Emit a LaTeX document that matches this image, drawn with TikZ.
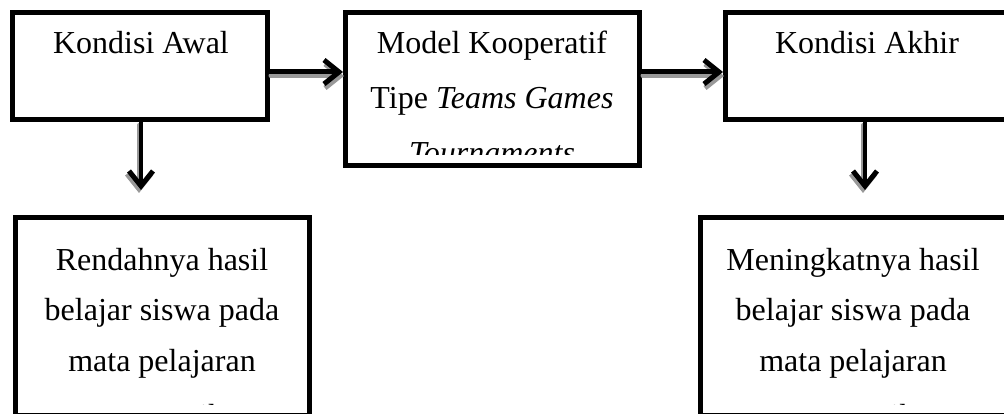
\documentclass[tikz,border=0pt]{standalone}
\usepackage{fontspec}
\setmainfont{Liberation Serif}
\usetikzlibrary{arrows.meta}
\tikzset{
  boxnode/.style={draw=black, line width=5pt, rectangle, inner sep=0pt, fill=white},
  txt/.style={anchor=base, inner sep=0pt, font=\fontsize{32}{40}\selectfont},
  arr/.style={line width=5pt, -{Straight Barb[length=15pt,width=24pt,line width=5pt]}, line cap=round, line join=round},
  shad/.style={arr, draw=black!40},
}
\begin{document}
\begin{tikzpicture}[x=1pt,y=-1pt]
\clip (0,0) rectangle (1004,414);
\fill[white] (0,0) rectangle (1004,414);
% boxes
\node[boxnode, minimum width=255pt, minimum height=107pt] (awal) at (140,66) {};
\node[boxnode, minimum width=294pt, minimum height=153pt] (model) at (492.5,89) {};
\node[boxnode, minimum width=285pt, minimum height=107pt] (akhir) at (868,66) {};
\node[boxnode, minimum width=294pt, minimum height=197.5pt] (rendah) at (162.5,316.25) {};
\node[boxnode, minimum width=310pt, minimum height=197.5pt] (tingkat) at (855.5,316.25) {};
% texts
\node[txt] (t1) at (141,54) {Kondisi Awal};
\begin{scope}
\clip (349,16) rectangle (636,155);
\node[txt] (t2a) at (492,54) {Model Kooperatif};
\node[txt] (t2b) at (492,109) {Tipe \textit{Teams Games}};
\node[txt] (t2c) at (492,164) {\textit{Tournaments}};
\end{scope}
\node[txt] (t3) at (867,54) {Kondisi Akhir};
\begin{scope}
\clip (19,221) rectangle (306,404);
\node[txt] (t4a) at (162,270) {Rendahnya hasil};
\node[txt] (t4b) at (162,320) {belajar siswa pada};
\node[txt] (t4c) at (162,371) {mata pelajaran};
\node[txt] (t4d) at (162,426.5) {Matematika};
\end{scope}
\begin{scope}
\clip (704,221) rectangle (1004,404);
\node[txt] (t5a) at (853,270) {Meningkatnya hasil};
\node[txt] (t5b) at (853,320) {belajar siswa pada};
\node[txt] (t5c) at (853,371) {mata pelajaran};
\node[txt] (t5d) at (853,426.5) {Matematika};
\end{scope}
% connectors
\coordinate (a1s) at ([yshift=-6pt]awal.east);
\coordinate (a2s) at (a1s -| model.east);
\begin{scope}[transform canvas={shift={(1pt,-4pt)}}]
\draw[shad] (a1s) -- (a1s -| model.west);
\draw[shad] (a2s) -- (a2s -| akhir.west);
\end{scope}
\draw[arr] (a1s) -- (a1s -| model.west);
\draw[arr] (a2s) -- (a2s -| akhir.west);
\coordinate (d1) at ([xshift=1pt]awal.south);
\coordinate (d2) at ([xshift=-3pt]akhir.south);
\begin{scope}[transform canvas={shift={(-2pt,-3pt)}}]
\draw[shad, line width=4pt] (d1) -- ([yshift=-68pt]d1);
\draw[shad, line width=4pt] (d2) -- ([yshift=-68pt]d2);
\end{scope}
\draw[arr, line width=4pt] (d1) -- ([yshift=-68pt]d1);
\draw[arr, line width=4pt] (d2) -- ([yshift=-68pt]d2);
\end{tikzpicture}
\end{document}
